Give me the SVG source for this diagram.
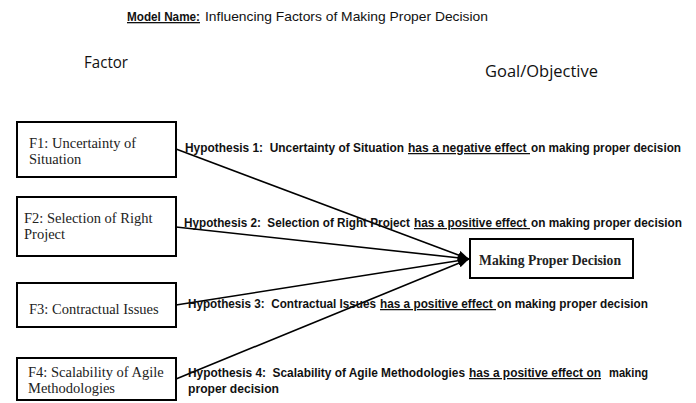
<svg xmlns="http://www.w3.org/2000/svg" width="696" height="403" viewBox="0 0 696 403">
<style>
.box{fill:#fff;stroke:#000;stroke-width:2}
.ft{font-family:"Liberation Serif","Times New Roman",serif;font-size:14.5px;fill:#222}
.hy{font-family:"Liberation Sans",Arial,sans-serif;font-weight:bold;font-size:12.5px;fill:#111;white-space:pre}
.u{text-decoration:underline}
.hd{font-family:"Open Sans","Liberation Sans",sans-serif;font-size:15.5px;fill:#111}
.ti{font-family:"Liberation Sans",Arial,sans-serif;font-size:13px;fill:#111;white-space:pre}
.con{stroke:#000;stroke-width:1.6;fill:none}
</style>
<defs>
<marker id="ah" markerUnits="userSpaceOnUse" markerWidth="12" markerHeight="10" refX="11" refY="4.5" orient="auto">
<path d="M0,0 L11,4.5 L0,9 z" fill="#000"/>
</marker>
</defs>
<rect width="696" height="403" fill="#fff"/>
<g id="title">
<text class="ti u" x="127" y="21" font-weight="bold" textLength="73" lengthAdjust="spacingAndGlyphs">Model Name:</text>
<text class="ti" x="205" y="21" textLength="283" lengthAdjust="spacingAndGlyphs">Influencing Factors of Making Proper Decision</text>
</g>
<g id="headers">
<text class="hd" x="84" y="68" textLength="44" lengthAdjust="spacingAndGlyphs">Factor</text>
<text class="hd" x="485" y="77" textLength="113" lengthAdjust="spacingAndGlyphs">Goal/Objective</text>
</g>
<g id="connectors">
<line class="con" x1="176" y1="149" x2="469" y2="259" marker-end="url(#ah)"/>
<line class="con" x1="176" y1="227" x2="469" y2="259" marker-end="url(#ah)"/>
<line class="con" x1="176" y1="305" x2="469" y2="259" marker-end="url(#ah)"/>
<line class="con" x1="176" y1="379" x2="469" y2="259" marker-end="url(#ah)"/>
</g>
<g id="f1">
<rect class="box" x="17" y="122" width="159" height="55"/>
<text class="ft" x="29" y="148">F1: Uncertainty of</text>
<text class="ft" x="29" y="164">Situation</text>
</g>
<g id="f2">
<rect class="box" x="17" y="197" width="159" height="59"/>
<text class="ft" x="24" y="223">F2: Selection of Right</text>
<text class="ft" x="24" y="239">Project</text>
</g>
<g id="f3">
<rect class="box" x="17" y="283" width="159" height="44"/>
<text class="ft" x="29" y="314">F3: Contractual Issues</text>
</g>
<g id="f4">
<rect class="box" x="17" y="358" width="159" height="42"/>
<text class="ft" x="28" y="377">F4: Scalability of Agile</text>
<text class="ft" x="28" y="393">Methodologies</text>
</g>
<g id="goal">
<rect class="box" x="470" y="239" width="163" height="39"/>
<text x="479" y="265" font-family="Liberation Serif,'Times New Roman',serif" font-weight="bold" font-size="14" fill="#222" textLength="142" lengthAdjust="spacingAndGlyphs">Making Proper Decision</text>
</g>
<g id="h1">
<text class="hy" x="185" y="152" textLength="219" lengthAdjust="spacingAndGlyphs">Hypothesis 1:  Uncertainty of Situation</text>
<text class="hy u" x="408" y="152" textLength="122" lengthAdjust="spacingAndGlyphs">has a negative effect </text>
<text class="hy" x="531" y="152" textLength="150" lengthAdjust="spacingAndGlyphs">on making proper decision</text>
</g>
<g id="h2">
<text class="hy" x="184" y="227" textLength="226" lengthAdjust="spacingAndGlyphs">Hypothesis 2:  Selection of Right Project</text>
<text class="hy u" x="414" y="227" textLength="116" lengthAdjust="spacingAndGlyphs">has a positive effect </text>
<text class="hy" x="531" y="227" textLength="151" lengthAdjust="spacingAndGlyphs">on making proper decision</text>
</g>
<g id="h3">
<text class="hy" x="188" y="308" textLength="188" lengthAdjust="spacingAndGlyphs">Hypothesis 3:  Contractual Issues</text>
<text class="hy u" x="380" y="308" textLength="116" lengthAdjust="spacingAndGlyphs">has a positive effect </text>
<text class="hy" x="497" y="308" textLength="151" lengthAdjust="spacingAndGlyphs">on making proper decision</text>
</g>
<g id="h4">
<text class="hy" x="188" y="377" textLength="277" lengthAdjust="spacingAndGlyphs">Hypothesis 4:  Scalability of Agile Methodologies</text>
<text class="hy u" x="469" y="377" textLength="132" lengthAdjust="spacingAndGlyphs">has a positive effect on</text>
<text class="hy" x="609" y="377" textLength="39" lengthAdjust="spacingAndGlyphs">making</text>
<text class="hy" x="188" y="393" textLength="91" lengthAdjust="spacingAndGlyphs">proper decision</text>
</g>
</svg>
